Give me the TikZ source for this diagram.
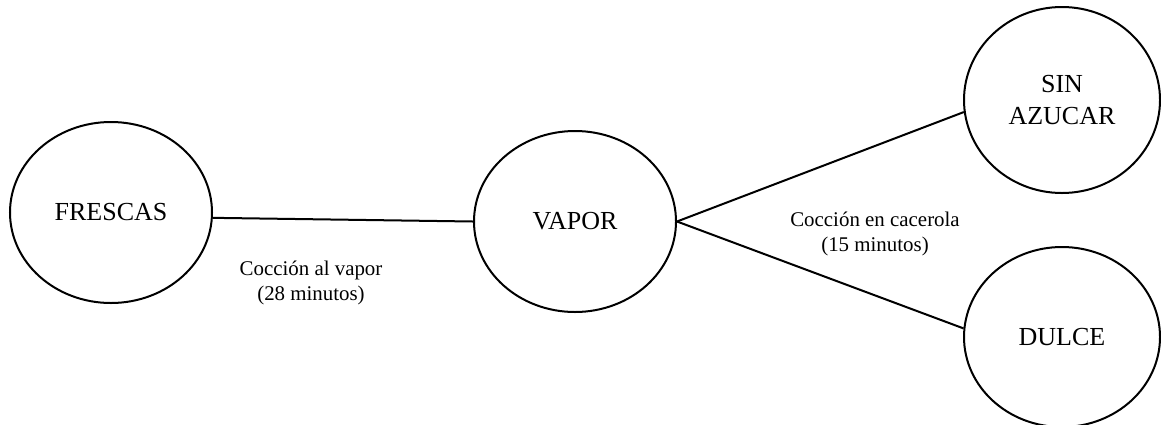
\documentclass[tikz,border=0pt]{standalone}
\usepackage{fontspec}
\setmainfont{Liberation Serif}
\usetikzlibrary{shapes.geometric}
\begin{document}
\begin{tikzpicture}[x=1pt,y=-1pt,
  state/.style={draw=black, line width=2pt, ellipse, inner sep=0pt, align=center,
    font=\fontsize{26}{32}\selectfont},
  conn/.style={draw=black, line width=2pt},
  lbl/.style={align=center, inner sep=0pt, font=\fontsize{20.9}{25}\selectfont}]
\useasboundingbox (0,0) rectangle (1161,424);
\node[state, minimum width=202pt, minimum height=181pt] (frescas) at (111,212.5) {FRESCAS};
\node[state, minimum width=202pt, minimum height=181pt] (vapor) at (575,221.5) {VAPOR};
\node[state, minimum width=196pt, minimum height=186pt] (sin) at (1062,100) {SIN\\AZUCAR};
\node[state, minimum width=196pt, minimum height=180pt] (dulce) at (1062,337) {DULCE};
\draw[conn] (frescas.-3) -- (vapor.west);
\draw[conn] (vapor.east) -- (sin.187);
\draw[conn] (vapor.east) -- (dulce.175);
\node[lbl] (l1) at (311,283) {Cocción al vapor\\(28 minutos)};
\node[lbl] (l2) at (875,234) {Cocción en cacerola\\(15 minutos)};
\end{tikzpicture}
\end{document}
